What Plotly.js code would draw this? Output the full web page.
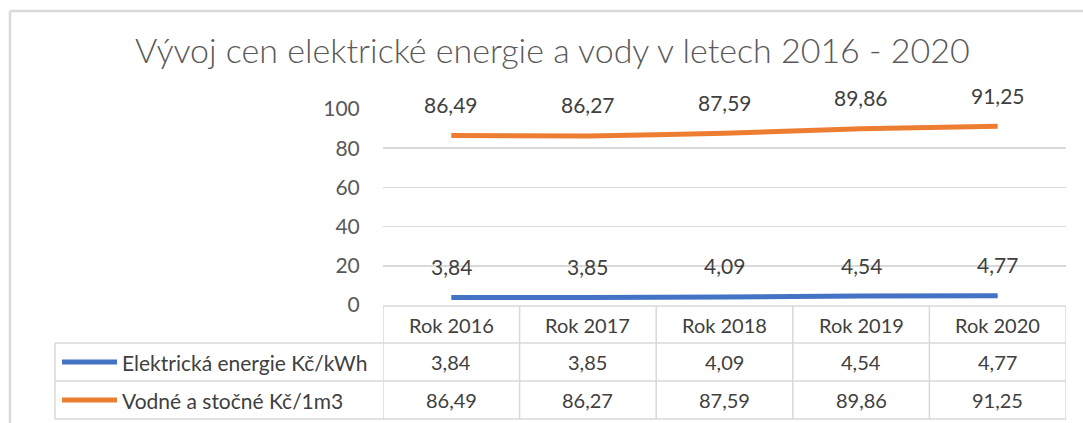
<!DOCTYPE html>
<html>
<head>
<meta charset="utf-8">
<script src="https://cdn.plot.ly/plotly-3.0.1.min.js"></script>
<style>html,body{margin:0;padding:0;background:#fff;}#chart{width:1083px;height:423px;}</style>
</head>
<body>
<div id="chart"></div>
<script>
const years = ['Rok 2016', 'Rok 2017', 'Rok 2018', 'Rok 2019', 'Rok 2020'];
const elektrina = [3.84, 3.85, 4.09, 4.54, 4.77];
const voda = [86.49, 86.27, 87.59, 89.86, 91.25];
const seriesNames = ['Elektrická energie Kč/kWh', 'Vodné a stočné Kč/1m3'];
const seriesValues = [elektrina, voda];
const seriesColors = ['#4472C4', '#ED7D31'];
const yTicks = [0, 20, 40, 60, 80, 100];
const titleText = 'Vývoj cen elektrické energie a vody v letech 2016 - 2020';

const W = 1083, H = 423;
const px = v => v / W;
const py = v => (H - v) / H;
const fmt = v => v.toFixed(2).replace('.', ',');
const FONT = 'Lato, "Open Sans", sans-serif';
const GRID = '#d9d9d9';
const TXT = '#404040';

const traces = seriesValues.map((vals, k) => ({
  x: years, y: vals, type: 'scatter', mode: 'lines', name: seriesNames[k],
  line: {color: seriesColors[k], width: 5, shape: 'spline', smoothing: 0.5},
  hoverinfo: 'skip', cliponaxis: false
}));

const annotations = [];
// data labels
seriesValues.forEach(vals => vals.forEach((v, i) => annotations.push({
  x: years[i], y: v, xref: 'x', yref: 'y', yshift: 31, yanchor: 'middle', text: fmt(v), showarrow: false,
  font: {family: FONT, size: 21, color: TXT}
})));
// table rows
const rowTop = [306, 343, 381, 419];
const rowMid = i => py((rowTop[i] + rowTop[i + 1]) / 2);
years.forEach((yr, i) => annotations.push({
  x: yr, y: rowMid(0), xref: 'x', yref: 'paper', yanchor: 'middle', text: yr, showarrow: false,
  font: {family: FONT, size: 20, color: TXT}
}));
seriesValues.forEach((vals, k) => {
  annotations.push({
    x: px(120), y: rowMid(k + 1), xref: 'paper', yref: 'paper', xanchor: 'left', yanchor: 'middle',
    text: seriesNames[k], showarrow: false, font: {family: FONT, size: 21, color: TXT}
  });
  vals.forEach((v, i) => annotations.push({
    x: years[i], y: rowMid(k + 1), xref: 'x', yref: 'paper', yanchor: 'middle', text: fmt(v), showarrow: false,
    font: {family: FONT, size: 20, color: TXT}
  }));
});

const shapes = [];
const ln = (x0, y0, x1, y1, xref, color, width) => shapes.push({
  type: 'line', xref: xref || 'paper', yref: 'paper', x0, x1, y0, y1,
  line: {color: color || GRID, width: width || 1.5}
});
// outer chart border
ln(px(10), py(11), px(10), py(H + 2), 'paper', '#d9d9d9', 2.5);
ln(px(10), py(11), px(W + 2), py(11), 'paper', '#d9d9d9', 2.5);
// table horizontal lines
ln(px(383), py(306), px(1066), py(306));
[343, 381, 419].forEach(y => ln(px(55), py(y), px(1066), py(y)));
// table vertical lines
ln(px(55), py(343), px(55), py(419));
for (let i = 0; i <= years.length; i++) {
  ln(i - 0.5, py(306), i - 0.5, py(419), 'x');
}
// legend keys
seriesColors.forEach((c, k) => shapes.push({
  type: 'line', xref: 'paper', yref: 'paper', x0: px(62), x1: px(117),
  y0: rowMid(k + 1), y1: rowMid(k + 1), line: {color: c, width: 5}
}));

const layout = {
  width: W, height: H,
  margin: {l: 0, r: 0, t: 0, b: 0},
  paper_bgcolor: '#fff', plot_bgcolor: '#fff',
  showlegend: false,
  title: {text: titleText, x: 0.51, xanchor: 'center', y: py(51), yanchor: 'middle',
    font: {family: FONT, size: 34, weight: 300, color: '#595959'}},
  xaxis: {domain: [px(383), px(1066)], range: [-0.5, years.length - 0.5],
    showticklabels: false, showgrid: false, zeroline: false, fixedrange: true},
  yaxis: {domain: [py(305), py(109)], range: [0, 100], tickvals: yTicks,
    ticks: 'outside', ticklen: 18, tickcolor: 'rgba(0,0,0,0)',
    tickfont: {family: FONT, size: 21, color: '#595959'},
    gridcolor: GRID, gridwidth: 1.5, zeroline: false, showline: false, fixedrange: true},
  shapes, annotations
};

Plotly.newPlot('chart', traces, layout, {displayModeBar: false, staticPlot: true});
</script>
</body>
</html>
